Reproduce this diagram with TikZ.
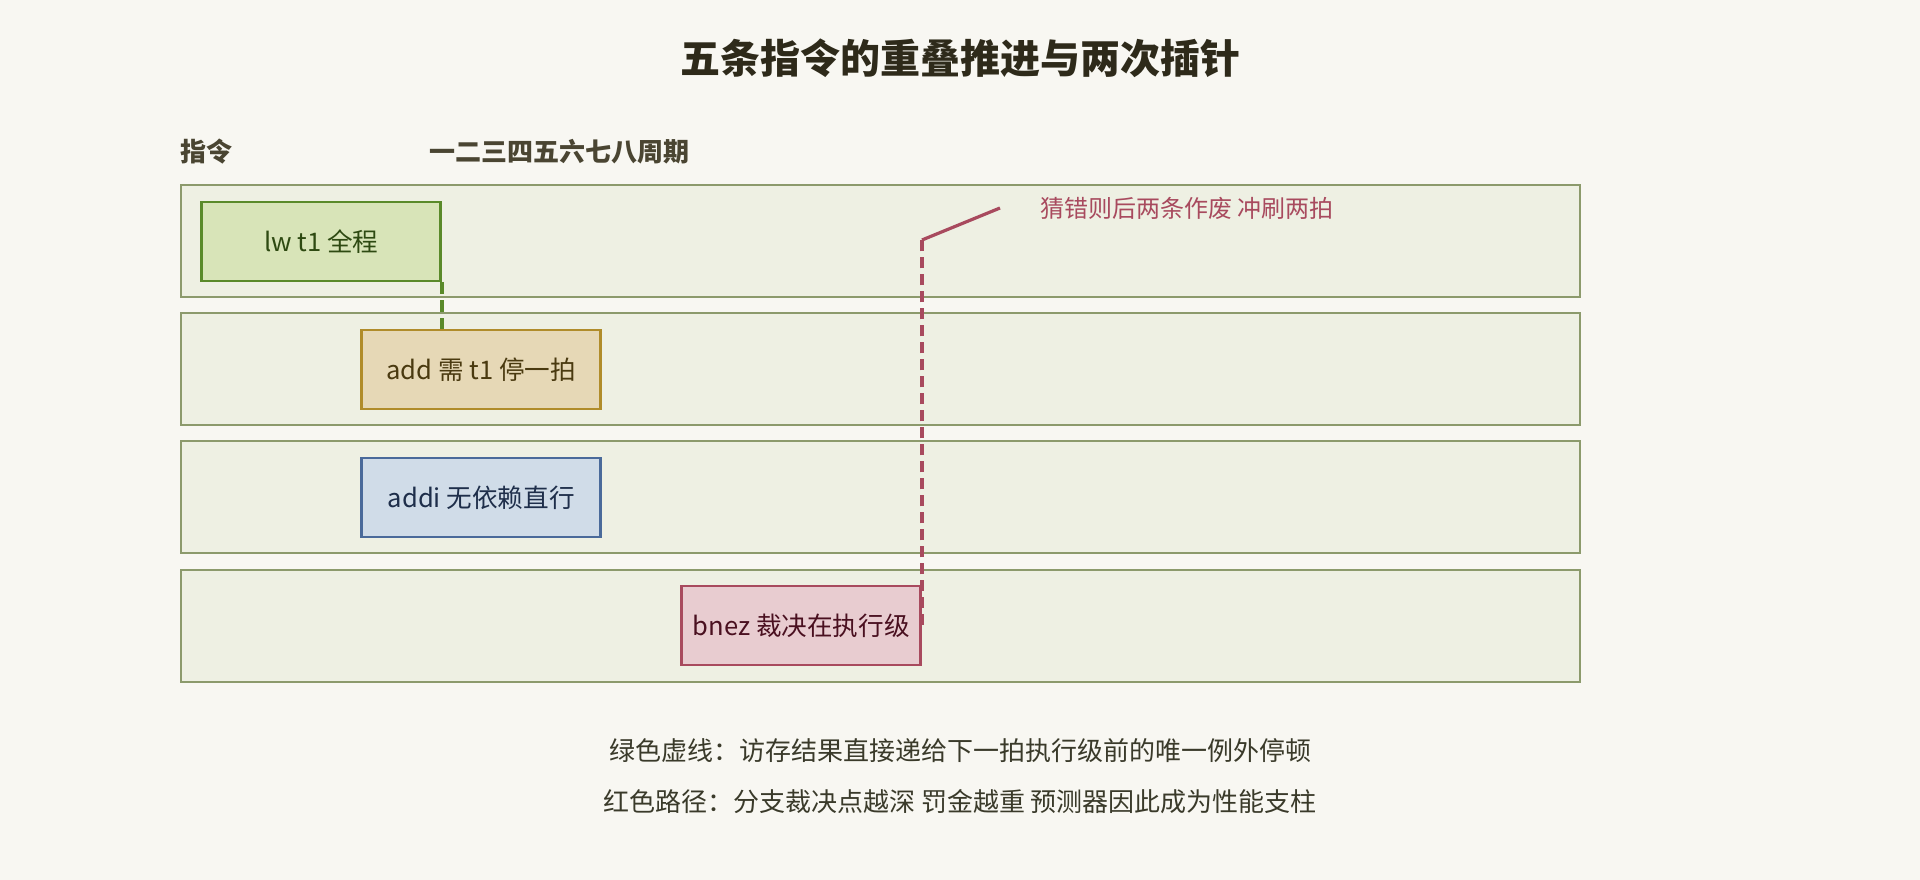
\documentclass[tikz,border=0pt]{standalone}
\usepackage{fontspec}
\setmainfont{Noto Sans CJK SC}
\definecolor{bg}{HTML}{F8F7F2}
\definecolor{rowfill}{HTML}{EEF0E3}
\definecolor{rowline}{HTML}{8C9A6C}
\definecolor{gfill}{HTML}{D8E4B8}
\definecolor{gline}{HTML}{5A8A2A}
\definecolor{gtext}{HTML}{2E4A12}
\definecolor{yfill}{HTML}{E6D8B6}
\definecolor{yline}{HTML}{B08C2A}
\definecolor{ytext}{HTML}{4A3A10}
\definecolor{bfill}{HTML}{D0DCE8}
\definecolor{bline}{HTML}{4A6A9A}
\definecolor{btext}{HTML}{1E2E4A}
\definecolor{rfill}{HTML}{E8CCD0}
\definecolor{rline}{HTML}{A84A5E}
\definecolor{rtext}{HTML}{4A1020}
\definecolor{titlec}{HTML}{2E2A1A}
\definecolor{headc}{HTML}{4A4532}
\definecolor{capc}{HTML}{3A3A2A}
\begin{document}
\begin{tikzpicture}[x=1pt,y=-1pt,
  rowbox/.style={draw=rowline,fill=rowfill,line width=2pt,minimum width=1399pt,minimum height=112pt,anchor=north west,inner sep=0pt},
  stagebox/.style={line width=2.6pt,minimum width=239pt,minimum height=79pt,anchor=north west,inner sep=0pt,font=\fontsize{25.6}{30}\selectfont},
  headtext/.style={font=\fontsize{26}{31}\selectfont\bfseries,text=headc,anchor=west,inner sep=0pt},
  captext/.style={font=\fontsize{26}{31}\selectfont,text=capc,inner sep=0pt},
  gdash/.style={draw=gline,line width=3.6pt,dash pattern=on 12pt off 6pt},
  rdash/.style={draw=rline,line width=3.2pt,dash pattern=on 11pt off 6pt},
  rsolid/.style={draw=rline,line width=3.2pt}]
\useasboundingbox[fill=bg] (0,0) rectangle (1920,880);
% title
\node[font=\fontsize{40}{48}\selectfont\bfseries,text=titlec,inner sep=0pt] (title) at (960,58) {五条指令的重叠推进与两次插针};
% headers
\node[headtext] (h1) at (180,152) {指令};
\node[headtext] (h2) at (429,152) {一二三四五六七八周期};
% rows
\node[rowbox] (r1) at (180.3,184) {};
\node[rowbox] (r2) at (180.3,312.2) {};
\node[rowbox] (r3) at (180.3,440.4) {};
\node[rowbox] (r4) at (180.3,568.6) {};
% stage boxes
\node[stagebox,draw=gline,fill=gfill,text=gtext] (lw) at (200.4,200.6) {lw t1 全程};
\node[stagebox,draw=yline,fill=yfill,text=ytext] (add) at (360.4,328.6) {add 需 t1 停一拍};
\node[stagebox,draw=bline,fill=bfill,text=btext] (addi) at (360.4,456.6) {addi 无依赖直行};
\node[stagebox,draw=rline,fill=rfill,text=rtext] (bnez) at (680.4,584.6) {bnez 裁决在执行级};
% green forwarding
\draw[gdash] (lw.south east) -- (lw.south east |- add.north);
% red flush path
\coordinate (turn) at (920,240);
\coordinate (tip) at (1000,208);
\node[font=\fontsize{24}{29}\selectfont,text=rline,anchor=west,inner sep=0pt] (flush) at (1040,208) {猜错则后两条作废 冲刷两拍};
\draw[rdash] (bnez.east) -- (bnez.east |- turn);
\draw[rsolid] (bnez.east |- turn) -- (tip);
% captions
\node[captext] (c1) at (960,751) {绿色虚线：访存结果直接递给下一拍执行级前的唯一例外停顿};
\node[captext] (c2) at (960,802) {红色路径：分支裁决点越深 罚金越重 预测器因此成为性能支柱};
\end{tikzpicture}
\end{document}
